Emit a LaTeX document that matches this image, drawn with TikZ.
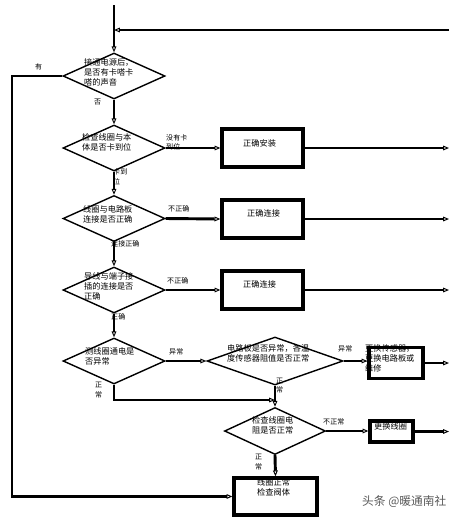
\documentclass[tikz,border=0pt]{standalone}
\usepackage{fontspec}
\usepackage{tikz}
\usetikzlibrary{shapes.geometric,arrows.meta}
\newfontfamily\cjk{Noto Sans CJK SC}

\begin{document}
\begin{tikzpicture}[x=0.03cm,y=-0.03cm,
  dec/.style={draw,shape=diamond,line width=1.2pt,inner sep=0pt,minimum width=3.06cm,minimum height=1.38cm},
  act/.style={draw,rectangle,line width=2.8pt,inner sep=0pt,minimum width=2.43cm,minimum height=1.14cm},
  txt/.style={anchor=west,align=left,inner sep=0pt,font=\cjk\fontsize{7}{8.5}\selectfont},
  lbl/.style={anchor=west,align=left,inner sep=0pt,font=\cjk\fontsize{6}{8}\selectfont},
  flow/.style={line width=2.5pt,-{Triangle[open,length=5pt,width=4pt,line width=0.8pt]}}]
  \useasboundingbox (0,0) rectangle (456,519);

  \node[dec] (d1) at (114,76) {};
  \node[dec] (d2) at (114,148) {};
  \node[dec] (d3) at (114,218.5) {};
  \node[dec] (d4) at (114,290) {};
  \node[dec] (d5) at (114,361) {};
  \node[dec,minimum width=4.08cm,minimum height=1.44cm] (d6) at (275,361) {};
  \node[dec,minimum width=3.03cm,minimum height=1.41cm] (d7) at (275,431) {};

  \node[act] (b1) at (262.5,148) {};
  \node[act] (b2) at (262.5,219) {};
  \node[act] (b3) at (262.5,290) {};
  \node[act,minimum width=1.62cm,minimum height=0.93cm] (b4) at (396,363) {};
  \node[act,minimum width=1.29cm,minimum height=0.63cm] (b5) at (391.5,431.5) {};
  \node[act,minimum width=2.49cm,minimum height=1.11cm] (b6) at (275.5,496.5) {};

  \node[txt] (t1) at (84,72) {接通电源后，\\是否有卡嗒卡\\嗒的声音};
  \node[txt] (t2) at (82,142.5) {检查线圈与本\\体是否卡到位};
  \node[txt] (t3) at (83,214) {线圈与电路板\\连接是否正确};
  \node[txt] (t4) at (84,286.5) {导线与端子接\\插的连接是否\\正确};
  \node[txt] (t5) at (85,356) {测线圈通电是\\否异常};
  \node[txt] (t6) at (227,353) {电路板是否异常，各温\\度传感器阻值是否正常};
  \node[txt] (t7) at (252,425) {检查线圈电\\阻是否正常};
  \node[txt] (u1) at (243,143) {正确安装};
  \node[txt] (u2) at (247,213) {正确连接};
  \node[txt] (u3) at (243,284) {正确连接};
  \node[txt] (u4) at (365,358) {更换传感器，\\更换电路板或\\维修};
  \node[txt] (u5) at (374,426) {更换线圈};
  \node[txt] (u6) at (257,487.5) {线圈正常\\检查阀体};

  \node[lbl] (l1) at (35,67) {有};
  \node[lbl] (l2) at (94,102) {否};
  \node[lbl] (l3) at (166,142.5) {没有卡\\到位};
  \node[lbl] (l4) at (113,177) {卡到\\位};
  \node[lbl] (l5) at (168,209) {不正确};
  \node[lbl] (l6) at (111,244) {连接正确};
  \node[lbl] (l7) at (167,281) {不正确};
  \node[lbl] (l8) at (111,317) {正确};
  \node[lbl] (l9) at (169,352) {异常};
  \node[lbl] (l10) at (95,390) {正\\常};
  \node[lbl] (l11) at (338,349) {异常};
  \node[lbl] (l12) at (276,385.5) {正\\常};
  \node[lbl] (l13) at (323,422) {不正常};
  \node[lbl] (l14) at (255,462) {正\\常};

  \node[anchor=west,inner sep=0pt,text=black!65,font=\cjk\fontsize{10}{12}\selectfont] (wm) at (362,502) {头条 @暖通南社};

  \coordinate (s0) at (114,5);
  \coordinate (j0) at (114,30);
  \coordinate (r0) at (449,30);
  \coordinate (r1) at (449,148);
  \coordinate (r2) at (449,219);
  \coordinate (r3) at (449,290);
  \coordinate (r4) at (449,363);
  \coordinate (r5) at (449,431.5);
  \coordinate (c1) at (12,496.5);
  \coordinate (c5) at (275,400);

  \draw[flow,line width=1.8pt] (s0) -- (d1.north);
  \draw[flow] (r0) -- (j0);
  \draw[flow,line width=1.8pt] (d1.south) -- (d2.north);
  \draw[flow,line width=1.8pt] (d2.south) -- (d3.north);
  \draw[flow,line width=1.8pt] (d3.south) -- (d4.north);
  \draw[flow,line width=1.8pt] (d4.south) -- (d5.north);
  \draw[flow] (d1.west) -| (c1) -- (b6.west);
  \draw[flow] (d2.east) -- (b1.west);
  \draw[flow] (d3.east) -- (b2.west);
  \draw[flow] (d4.east) -- (b3.west);
  \draw[flow] (d5.east) -- (d6.west);
  \draw[flow] (d6.east) -- (d6.east -| b4.west);
  \draw[flow] (d5.south) |- (c5);
  \draw[flow] (d6.south) -- (d7.north);
  \draw[flow] (d7.east) -- (d7.east -| b5.west);
  \draw[flow] (d7.south) -- (b6.north);
  \draw[flow] (b1.east) -- (r1);
  \draw[flow,line width=2pt] (b2.east) -- (r2);
  \draw[flow] (b3.east) -- (r3);
  \draw[flow] (b4.east) -- (r4);
  \draw[flow] (b5.east) -- (r5);
\end{tikzpicture}
\end{document}
